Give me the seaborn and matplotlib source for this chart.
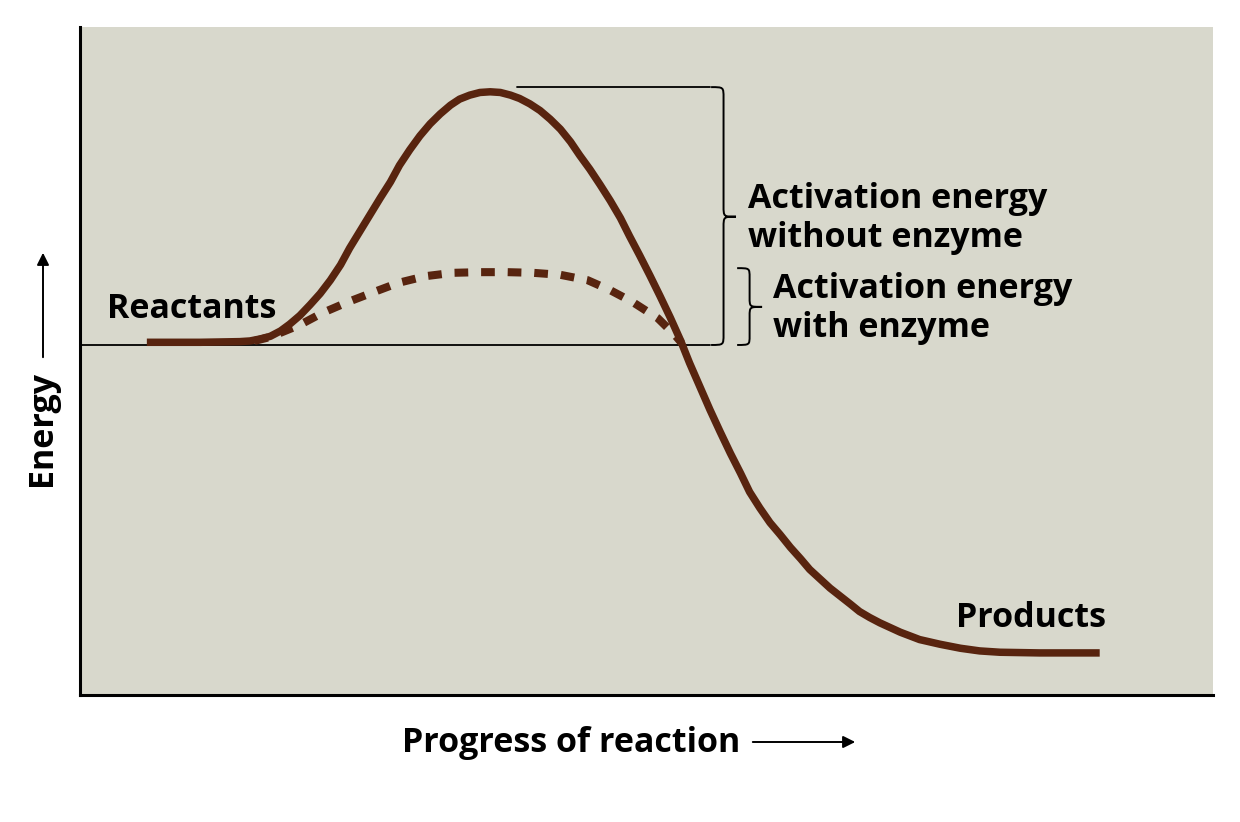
import matplotlib.pyplot as plt
import seaborn as sns
import pandas as pd
from matplotlib.path import Path
from matplotlib.patches import PathPatch

# energy profile (progress 0-100, energy 0-100)
progress = [5.9, 10.6, 14.1, 15.0, 15.9, 16.8, 17.7, 18.5, 19.4, 20.3, 21.2, 22.1,
            23.0, 23.8, 24.7, 25.6, 26.5, 27.4, 28.2, 29.1, 30.0, 30.9, 31.8, 32.7,
            33.5, 34.4, 35.3, 36.2, 37.1, 38.0, 38.8, 39.7, 40.6, 41.5, 42.4, 43.3,
            44.1, 45.0, 45.9, 46.8, 47.7, 48.5, 49.4, 50.3, 51.2, 52.1, 53.0, 53.8,
            54.7, 55.6, 56.5, 57.4, 58.3, 59.1, 60.0, 60.9, 61.8, 62.7, 63.6, 64.4,
            65.3, 66.2, 67.1, 68.0, 68.8, 69.7, 70.6, 72.4, 74.1, 75.9, 77.7, 79.4,
            81.2, 84.7, 90.0]
energy = [52.8, 52.8, 52.9, 53.0, 53.3, 53.7, 54.5, 55.5, 56.8, 58.4, 60.1, 62.1,
          64.4, 66.9, 69.4, 71.9, 74.4, 76.8, 79.3, 81.6, 83.7, 85.5, 87.0, 88.3,
          89.2, 89.8, 90.2, 90.3, 90.2, 89.8, 89.3, 88.5, 87.5, 86.2, 84.7, 82.8,
          80.8, 78.7, 76.4, 74.0, 71.4, 68.7, 65.8, 62.8, 59.7, 56.5, 53.1, 49.7,
          46.2, 42.7, 39.4, 36.2, 33.2, 30.4, 28.0, 25.8, 24.0, 22.1, 20.4, 18.8,
          17.4, 16.0, 14.8, 13.6, 12.5, 11.6, 10.8, 9.4, 8.3, 7.6, 7.0, 6.6,
          6.4, 6.3, 6.3]

# with enzyme (dashed)
progress_enz = [15.4, 16.8, 18.1, 19.4, 21.4, 23.6, 25.9, 28.1, 30.5, 32.9, 35.3,
                37.7, 40.0, 42.4, 44.8, 46.8, 48.8, 51.0, 52.5, 53.1]
energy_enz = [53.0, 53.6, 54.5, 55.4, 57.2, 58.8, 60.3, 61.7, 62.7, 63.2, 63.3,
              63.3, 63.2, 62.9, 62.1, 60.6, 58.8, 56.4, 53.9, 52.7]

reactant_level = 52.4
peak_level = 91.0

brown = "#58240f"
bg = "#d8d8cc"

sns.set_style("white")
plt.rcParams["font.family"] = ["Open Sans", "DejaVu Sans"]

fig = plt.figure(figsize=(12.4, 8.22), dpi=100)
ax = fig.add_axes([80 / 1240, 1 - 695 / 822, (1213 - 80) / 1240, (695 - 27) / 822])
ax.set_facecolor(bg)

df = pd.DataFrame({"progress": progress, "energy": energy})
df_enz = pd.DataFrame({"progress": progress_enz, "energy": energy_enz})

# reference lines
ax.plot([0, 55.6], [reactant_level, reactant_level], color="black", lw=1.3)
ax.plot([38.6, 55.6], [peak_level, peak_level], color="black", lw=1.3)

sns.lineplot(data=df_enz, x="progress", y="energy", ax=ax, color=brown,
             lw=5.8, linestyle=(0, (1.7, 1.6)), dash_joinstyle="round")
sns.lineplot(data=df, x="progress", y="energy", ax=ax, color=brown,
             lw=5.4, solid_capstyle="butt", solid_joinstyle="round")


def brace(x0, xm, xt, y0, y1, ym, r):
    verts = [(x0, y1), (xm, y1), (xm, y1), (xm, y1 - r),
             (xm, ym + r),
             (xm, ym), (xm, ym), (xt, ym),
             (xm, ym), (xm, ym), (xm, ym - r),
             (xm, y0 + r),
             (xm, y0), (xm, y0), (x0, y0)]
    codes = [Path.MOVETO, Path.CURVE4, Path.CURVE4, Path.CURVE4,
             Path.LINETO,
             Path.CURVE4, Path.CURVE4, Path.CURVE4,
             Path.CURVE4, Path.CURVE4, Path.CURVE4,
             Path.LINETO,
             Path.CURVE4, Path.CURVE4, Path.CURVE4]
    ax.add_patch(PathPatch(Path(verts, codes), fill=False, lw=1.4, color="black"))


brace(55.7, 56.8, 57.9, reactant_level, peak_level, 71.6, 1.6)
brace(58.0, 59.1, 60.2, reactant_level, 63.9, 58.1, 1.4)

fs = 24.5
tk = dict(fontsize=fs, fontweight="bold", color="black", ha="left", va="baseline")
ax.text(2.4, 56.4, "Reactants", **tk)
ax.text(77.3, 10.2, "Products", **tk)
ax.text(58.96, 72.9, "Activation energy", **tk)
ax.text(58.96, 67.1, "without enzyme", **tk)
ax.text(61.16, 59.4, "Activation energy", **tk)
ax.text(61.16, 53.6, "with enzyme", **tk)

ax.set_xlim(0, 100)
ax.set_ylim(0, 100)
ax.set_xticks([])
ax.set_yticks([])
ax.set_xlabel("")
ax.set_ylabel("")
for s in ["top", "right"]:
    ax.spines[s].set_visible(False)
for s in ["left", "bottom"]:
    ax.spines[s].set_color("black")
    ax.spines[s].set_linewidth(2.2)

# axis titles with arrows
fig.text(402 / 1240, 1 - 752 / 822, "Progress of reaction", fontsize=fs,
         fontweight="bold", color="black", ha="left", va="baseline")
fig.text(42 / 1240, 1 - 428 / 822, "Energy", fontsize=fs, fontweight="bold",
         color="black", rotation=90, ha="center", va="center")
arrow = dict(arrowstyle="-|>", color="black", lw=1.4, mutation_scale=18)
ax.annotate("", xy=(858 / 1240, 1 - 742 / 822), xytext=(750 / 1240, 1 - 742 / 822),
            xycoords="figure fraction", textcoords="figure fraction",
            arrowprops=arrow, annotation_clip=False)
ax.annotate("", xy=(43 / 1240, 1 - 250 / 822), xytext=(43 / 1240, 1 - 360 / 822),
            xycoords="figure fraction", textcoords="figure fraction",
            arrowprops=arrow, annotation_clip=False)

fig.savefig("out.png", dpi=100, facecolor="white")
